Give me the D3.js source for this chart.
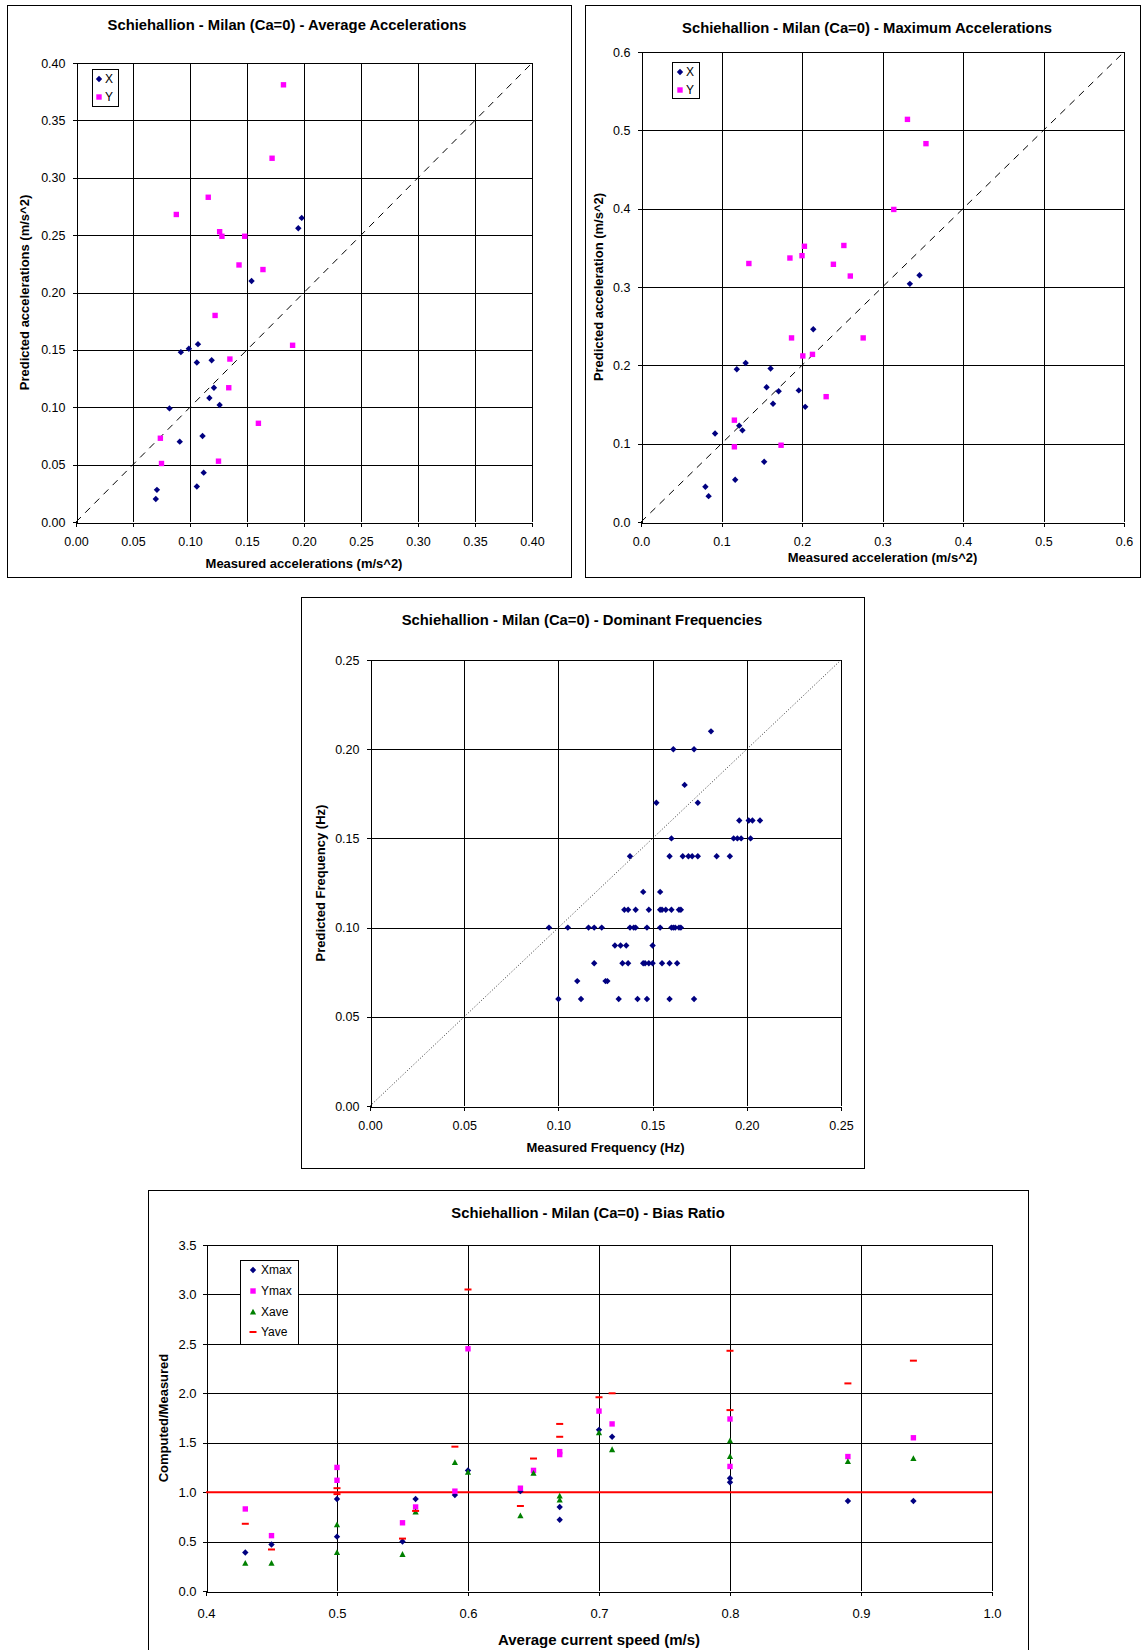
<!DOCTYPE html>
<html>
<head>
<meta charset="utf-8">
<script src="https://d3js.org/d3.v7.min.js"></script>
<style>
    body { margin: 0; background: #fff; }
    svg text { font-family: "Liberation Sans", Arial, sans-serif; fill: #000; }
    .title { font-weight: bold; font-size: 14.8px; }
    .axis-title { font-weight: bold; font-size: 13px; }
    .axis text { font-size: 12px; }
    .legend text { font-size: 12px; }
</style>
</head>
<body>
<svg id="page" width="1144" height="1650"></svg>
<script>
    // ---- Average accelerations (m/s^2) ----
    var avgXMeasured  = [0.070, 0.071, 0.082, 0.091, 0.092, 0.099, 0.107, 0.106, 0.106, 0.111, 0.112, 0.119, 0.121, 0.117, 0.126, 0.154, 0.195, 0.198];
    var avgXPredicted = [0.020, 0.028, 0.099, 0.070, 0.148, 0.151, 0.155, 0.139, 0.031, 0.075, 0.043, 0.141, 0.117, 0.108, 0.102, 0.210, 0.256, 0.265];
    var avgYMeasured  = [0.074, 0.075, 0.088, 0.116, 0.122, 0.126, 0.128, 0.148, 0.143, 0.164, 0.172, 0.182, 0.135, 0.134, 0.125, 0.160, 0.190];
    var avgYPredicted = [0.073, 0.051, 0.268, 0.283, 0.180, 0.253, 0.249, 0.249, 0.224, 0.220, 0.317, 0.381, 0.142, 0.117, 0.053, 0.086, 0.154];
    var avgTicks = [0, 0.05, 0.10, 0.15, 0.20, 0.25, 0.30, 0.35, 0.40];

    // ---- Maximum accelerations (m/s^2) ----
    var maxXMeasured  = [0.080, 0.084, 0.092, 0.117, 0.119, 0.122, 0.126, 0.130, 0.153, 0.156, 0.161, 0.164, 0.171, 0.196, 0.204, 0.214, 0.334, 0.346];
    var maxXPredicted = [0.045, 0.033, 0.113, 0.054, 0.195, 0.123, 0.117, 0.203, 0.077, 0.172, 0.196, 0.151, 0.167, 0.168, 0.147, 0.246, 0.304, 0.315];
    var maxYMeasured  = [0.116, 0.116, 0.134, 0.174, 0.185, 0.187, 0.200, 0.203, 0.201, 0.213, 0.230, 0.239, 0.252, 0.260, 0.276, 0.314, 0.331, 0.354];
    var maxYPredicted = [0.130, 0.096, 0.330, 0.098, 0.337, 0.235, 0.340, 0.352, 0.212, 0.214, 0.160, 0.329, 0.353, 0.314, 0.235, 0.399, 0.514, 0.483];
    var maxTicks = [0, 0.1, 0.2, 0.3, 0.4, 0.5, 0.6];

    // ---- Dominant frequencies (Hz) ----
    var freqMeasured = [
        0.181,
        0.161, 0.172,
        0.167,
        0.152, 0.174,
        0.196, 0.201, 0.203, 0.207,
        0.160, 0.193, 0.195, 0.197, 0.202,
        0.138, 0.159, 0.166, 0.169, 0.171, 0.174, 0.184, 0.191,
        0.145, 0.154,
        0.135, 0.137, 0.141, 0.148, 0.154, 0.155, 0.157, 0.160, 0.164, 0.165,
        0.095, 0.105, 0.116, 0.119, 0.123, 0.138, 0.140, 0.141, 0.147, 0.154, 0.160, 0.161, 0.162, 0.164, 0.165,
        0.130, 0.133, 0.136, 0.150,
        0.119, 0.134, 0.137, 0.145, 0.146, 0.148, 0.150, 0.155, 0.159, 0.163,
        0.110, 0.125, 0.126,
        0.100, 0.112, 0.132, 0.142, 0.147, 0.159, 0.172
    ];
    var freqPredicted = [
        0.21,
        0.20, 0.20,
        0.18,
        0.17, 0.17,
        0.16, 0.16, 0.16, 0.16,
        0.15, 0.15, 0.15, 0.15, 0.15,
        0.14, 0.14, 0.14, 0.14, 0.14, 0.14, 0.14, 0.14,
        0.12, 0.12,
        0.11, 0.11, 0.11, 0.11, 0.11, 0.11, 0.11, 0.11, 0.11, 0.11,
        0.10, 0.10, 0.10, 0.10, 0.10, 0.10, 0.10, 0.10, 0.10, 0.10, 0.10, 0.10, 0.10, 0.10, 0.10,
        0.09, 0.09, 0.09, 0.09,
        0.08, 0.08, 0.08, 0.08, 0.08, 0.08, 0.08, 0.08, 0.08, 0.08,
        0.07, 0.07, 0.07,
        0.06, 0.06, 0.06, 0.06, 0.06, 0.06, 0.06
    ];
    var freqTicks = [0, 0.05, 0.10, 0.15, 0.20, 0.25];

    // ---- Bias ratio vs average current speed ----
    var xmaxSpeed = [0.43, 0.45, 0.50, 0.50, 0.55, 0.56, 0.59, 0.60, 0.64, 0.67, 0.67, 0.70, 0.71, 0.80, 0.80, 0.89, 0.94];
    var xmaxRatio = [0.39, 0.47, 0.93, 0.55, 0.50, 0.93, 0.97, 1.22, 1.01, 0.85, 0.72, 1.63, 1.56, 1.14, 1.10, 0.91, 0.91];
    var ymaxSpeed = [0.43, 0.45, 0.50, 0.50, 0.55, 0.56, 0.59, 0.60, 0.64, 0.65, 0.67, 0.67, 0.70, 0.71, 0.80, 0.80, 0.89, 0.94];
    var ymaxRatio = [0.83, 0.56, 1.25, 1.12, 0.69, 0.85, 1.01, 2.45, 1.04, 1.22, 1.41, 1.38, 1.82, 1.69, 1.74, 1.26, 1.36, 1.55];
    var xaveSpeed = [0.43, 0.45, 0.50, 0.50, 0.55, 0.56, 0.59, 0.60, 0.64, 0.65, 0.67, 0.67, 0.70, 0.71, 0.80, 0.80, 0.89, 0.94];
    var xaveRatio = [0.28, 0.28, 0.67, 0.39, 0.37, 0.80, 1.30, 1.20, 0.76, 1.19, 0.96, 0.92, 1.60, 1.43, 1.52, 1.36, 1.31, 1.34];
    var yaveSpeed = [0.43, 0.45, 0.50, 0.50, 0.55, 0.56, 0.59, 0.60, 0.64, 0.65, 0.67, 0.67, 0.70, 0.71, 0.80, 0.80, 0.89, 0.94];
    var yaveRatio = [0.68, 0.42, 1.04, 0.98, 0.53, 0.81, 1.46, 3.05, 0.86, 1.34, 1.69, 1.56, 1.96, 2.00, 2.43, 1.83, 2.10, 2.33];
    var speedTicks = [0.4, 0.5, 0.6, 0.7, 0.8, 0.9, 1.0];
    var ratioTicks = [0, 0.5, 1.0, 1.5, 2.0, 2.5, 3.0, 3.5];

    var svg = d3.select("#page");

    var NAVY = "#000080", MAGENTA = "#ff00ff", GREEN = "#008000", RED = "#ff0000";

    // marker shapes, centred on 0,0
    function markerPath(type) {
        if (type === "diamond") return "M0,-3.2L3.2,0L0,3.2L-3.2,0Z";
        if (type === "square") return "M-2.7,-2.7H2.7V2.7H-2.7Z";
        if (type === "triangle") return "M0,-3.3L3.1,2.5H-3.1Z";
        if (type === "dash") return "M-3.5,-1H3.5V1H-3.5Z";
        return "";
    }
    function zip(a, b) {
        return a.map(function (v, i) { return [v, b[i]]; });
    }

    // one Excel-looking xy panel
    function drawPanel(p) {
        var g = svg.append("g");

        // chart frame
        g.append("rect")
            .attr("x", p.box[0] + 0.5).attr("y", p.box[1] + 0.5)
            .attr("width", p.box[2] - p.box[0]).attr("height", p.box[3] - p.box[1])
            .attr("fill", "#fff").attr("stroke", "#000").attr("stroke-width", 1);

        var x = d3.scaleLinear().domain(p.xDomain).range([p.left, p.right]);
        var y = d3.scaleLinear().domain(p.yDomain).range([p.bottom, p.top]);

        // gridlines
        g.append("g").selectAll("line")
            .data(p.yTicks.slice(1))
            .join("line")
            .attr("x1", p.left).attr("x2", p.right)
            .attr("y1", function (d) { return Math.round(y(d)) + 0.5; })
            .attr("y2", function (d) { return Math.round(y(d)) + 0.5; })
            .attr("stroke", "#000").attr("stroke-width", 1);
        g.append("g").selectAll("line")
            .data(p.xTicks.slice(1))
            .join("line")
            .attr("y1", p.top).attr("y2", p.bottom)
            .attr("x1", function (d) { return Math.round(x(d)) + 0.5; })
            .attr("x2", function (d) { return Math.round(x(d)) + 0.5; })
            .attr("stroke", "#000").attr("stroke-width", 1);

        // axes
        g.append("g")
            .classed("axis", true)
            .attr("transform", "translate(0," + (Math.round(p.bottom) + 0.5) + ")")
            .call(d3.axisBottom(x).tickValues(p.xTicks).tickFormat(p.xFormat)
                .tickSizeInner(4).tickSizeOuter(0).tickPadding(p.xPad));
        g.append("g")
            .classed("axis", true)
            .attr("transform", "translate(" + (Math.round(p.left) + 0.5) + ",0)")
            .call(d3.axisLeft(y).tickValues(p.yTicks).tickFormat(p.yFormat)
                .tickSizeInner(4).tickSizeOuter(0).tickPadding(p.yPad));
        g.selectAll(".axis path, .axis line").attr("stroke", "#000").attr("shape-rendering", "crispEdges");
        g.selectAll(".axis text").style("font-size", p.tickFont + "px");

        // titles
        g.append("text").classed("title", true)
            .attr("x", p.titleX).attr("y", p.titleY)
            .attr("text-anchor", "middle")
            .text(p.title);
        g.append("text").classed("axis-title", true)
            .attr("x", (p.left + p.right) / 2).attr("y", p.xTitleY)
            .attr("text-anchor", "middle")
            .style("font-size", p.xAxisFont + "px")
            .text(p.xTitle);
        g.append("text").classed("axis-title", true)
            .attr("transform", "translate(" + p.yTitleX + "," + (p.top + p.bottom) / 2 + ") rotate(-90)")
            .attr("text-anchor", "middle")
            .style("font-size", p.yAxisFont + "px")
            .text(p.yTitle);

        // reference line
        if (p.refLine) {
            var r = p.refLine;
            g.append("line")
                .attr("x1", x(r.from[0])).attr("y1", y(r.from[1]))
                .attr("x2", x(r.to[0])).attr("y2", y(r.to[1]))
                .attr("stroke", r.color).attr("stroke-width", r.width)
                .attr("stroke-dasharray", r.dash);
        }

        // series
        p.series.forEach(function (s) {
            g.append("g").selectAll("path")
                .data(s.points)
                .join("path")
                .attr("d", markerPath(s.shape))
                .attr("transform", function (d) { return "translate(" + x(d[0]) + "," + y(d[1]) + ")"; })
                .attr("fill", s.color);
        });

        // legend
        if (p.legend) {
            var L = p.legend;
            var lg = g.append("g").classed("legend", true);
            lg.append("rect")
                .attr("x", L.box[0] + 0.5).attr("y", L.box[1] + 0.5)
                .attr("width", L.box[2] - L.box[0]).attr("height", L.box[3] - L.box[1])
                .attr("fill", "#fff").attr("stroke", "#000");
            p.series.forEach(function (s, i) {
                var cy = L.rows[i];
                lg.append("path")
                    .attr("d", markerPath(s.shape))
                    .attr("transform", "translate(" + L.markerX + "," + cy + ")")
                    .attr("fill", s.color);
                lg.append("text")
                    .attr("x", L.textX).attr("y", cy)
                    .attr("dy", "0.35em")
                    .style("font-size", L.font + "px")
                    .text(s.name);
            });
        }
    }

    drawPanel({
        box: [7, 5, 571, 577],
        left: 76, right: 532, top: 63, bottom: 522,
        xDomain: [0, 0.40], yDomain: [0, 0.40],
        xTicks: avgTicks, yTicks: avgTicks,
        xFormat: d3.format(".2f"), yFormat: d3.format(".2f"),
        xPad: 11, yPad: 7, tickFont: 12.5, xAxisFont: 13, yAxisFont: 13,
        title: "Schiehallion - Milan (Ca=0) - Average Accelerations", titleX: 287, titleY: 30,
        xTitle: "Measured accelerations (m/s^2)", xTitleY: 568,
        yTitle: "Predicted accelerations (m/s^2)", yTitleX: 29,
        refLine: { from: [0, 0], to: [0.40, 0.40], color: "#000", width: 1, dash: "7,6" },
        series: [
            { name: "X", shape: "diamond", color: NAVY, points: zip(avgXMeasured, avgXPredicted) },
            { name: "Y", shape: "square", color: MAGENTA, points: zip(avgYMeasured, avgYPredicted) }
        ],
        legend: { box: [92, 69, 118, 106], markerX: 99, textX: 105, rows: [79, 97], font: 12 }
    });

    drawPanel({
        box: [585, 5, 1140, 577],
        left: 641, right: 1124, top: 52, bottom: 522,
        xDomain: [0, 0.6], yDomain: [0, 0.6],
        xTicks: maxTicks, yTicks: maxTicks,
        xFormat: d3.format(".1f"), yFormat: d3.format(".1f"),
        xPad: 11, yPad: 7, tickFont: 12.5, xAxisFont: 13, yAxisFont: 13,
        title: "Schiehallion - Milan (Ca=0) - Maximum Accelerations", titleX: 867, titleY: 33,
        xTitle: "Measured acceleration (m/s^2)", xTitleY: 562,
        yTitle: "Predicted acceleration (m/s^2)", yTitleX: 603,
        refLine: { from: [0, 0], to: [0.6, 0.6], color: "#000", width: 1, dash: "7,6" },
        series: [
            { name: "X", shape: "diamond", color: NAVY, points: zip(maxXMeasured, maxXPredicted) },
            { name: "Y", shape: "square", color: MAGENTA, points: zip(maxYMeasured, maxYPredicted) }
        ],
        legend: { box: [672, 62, 699, 98], markerX: 680, textX: 686, rows: [72, 90], font: 12 }
    });

    drawPanel({
        box: [301, 597, 864, 1168],
        left: 370, right: 841, top: 660, bottom: 1106,
        xDomain: [0, 0.25], yDomain: [0, 0.25],
        xTicks: freqTicks, yTicks: freqTicks,
        xFormat: d3.format(".2f"), yFormat: d3.format(".2f"),
        xPad: 11, yPad: 7, tickFont: 12.5, xAxisFont: 13, yAxisFont: 13,
        title: "Schiehallion - Milan (Ca=0) - Dominant Frequencies", titleX: 582, titleY: 625,
        xTitle: "Measured Frequency (Hz)", xTitleY: 1152,
        yTitle: "Predicted Frequency (Hz)", yTitleX: 325,
        refLine: { from: [0, 0], to: [0.25, 0.25], color: "#333", width: 1, dash: "1,2" },
        series: [
            { name: "Freq", shape: "diamond", color: NAVY, points: zip(freqMeasured, freqPredicted) }
        ]
    });

    drawPanel({
        box: [148, 1190, 1028, 1660],
        left: 206, right: 992, top: 1245, bottom: 1591,
        xDomain: [0.4, 1.0], yDomain: [0, 3.5],
        xTicks: speedTicks, yTicks: ratioTicks,
        xFormat: d3.format(".1f"), yFormat: d3.format(".1f"),
        xPad: 13, yPad: 6, tickFont: 13, xAxisFont: 15, yAxisFont: 13,
        title: "Schiehallion - Milan (Ca=0) - Bias Ratio", titleX: 588, titleY: 1218,
        xTitle: "Average current speed (m/s)", xTitleY: 1645,
        yTitle: "Computed/Measured", yTitleX: 168,
        refLine: { from: [0.4, 1.0], to: [1.0, 1.0], color: RED, width: 2, dash: null },
        series: [
            { name: "Xmax", shape: "diamond", color: NAVY, points: zip(xmaxSpeed, xmaxRatio) },
            { name: "Ymax", shape: "square", color: MAGENTA, points: zip(ymaxSpeed, ymaxRatio) },
            { name: "Xave", shape: "triangle", color: GREEN, points: zip(xaveSpeed, xaveRatio) },
            { name: "Yave", shape: "dash", color: RED, points: zip(yaveSpeed, yaveRatio) }
        ],
        legend: { box: [240, 1260, 298, 1344], markerX: 253, textX: 261, rows: [1270, 1291, 1312, 1332], font: 12 }
    });
</script>
</body>
</html>
